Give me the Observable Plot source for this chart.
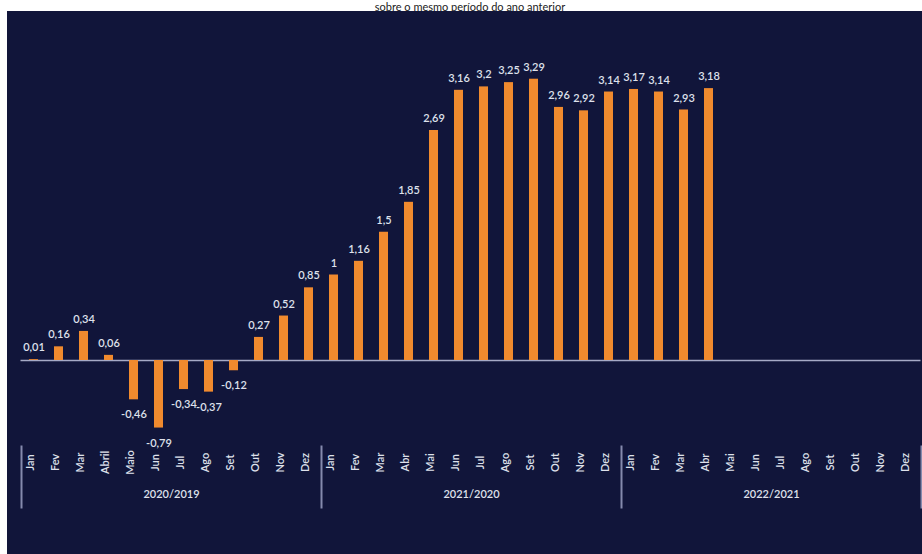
<!DOCTYPE html>
<html>
<head>
<meta charset="utf-8">
<script src="https://cdn.jsdelivr.net/npm/d3@7"></script>
<script src="https://cdn.jsdelivr.net/npm/@observablehq/plot@0.6"></script>
<style>
  html, body { margin: 0; padding: 0; background: #ffffff; }
  #title {
    height: 11px; text-align: center;
    font-family: Lato, "Open Sans", sans-serif; font-size: 11px; line-height: 13px; color: #222;
  }
  #title span { display: block; padding-left: 18px; }
  #chart svg { display: block; margin-left: 7px; position: relative; }
</style>
</head>
<body>
<div id="title"><span>sobre o mesmo período do ano anterior</span></div>
<div id="chart"></div>
<script>
// Month names per comparison period
const months2020 = ["Jan", "Fev", "Mar", "Abril", "Maio", "Jun", "Jul", "Ago", "Set", "Out", "Nov", "Dez"];
const monthsLater = ["Jan", "Fev", "Mar", "Abr", "Mai", "Jun", "Jul", "Ago", "Set", "Out", "Nov", "Dez"];
const periods = ["2020/2019", "2021/2020", "2022/2021"];

// Variation (%) over the same period of the previous year
const values2020 = [0.01, 0.16, 0.34, 0.06, -0.46, -0.79, -0.34, -0.37, -0.12, 0.27, 0.52, 0.85];
const values2021 = [1, 1.16, 1.5, 1.85, 2.69, 3.16, 3.2, 3.25, 3.29, 2.96, 2.92, 3.14];
const values2022 = [3.17, 3.14, 2.93, 3.18];

const monthLists = [months2020, monthsLater, monthsLater];
const valueLists = [values2020, values2021, values2022];

// One slot per month, with or without a value
const slots = [];
periods.forEach((p, i) => {
  monthLists[i].forEach((m, j) => {
    const v = valueLists[i][j];
    slots.push({key: p + "|" + j, period: p, month: m, value: v === undefined ? null : v});
  });
});
const keys = slots.map(d => d.key);
const bars = slots.filter(d => d.value !== null);
const fmt = v => String(v).replace(".", ",");

const groupStarts = periods.map(p => p + "|0");
const groupMiddles = periods.map(p => ({key: p + "|6", label: p}));
const lastKey = keys[keys.length - 1];

const textColor = "#dfe1ec";
const orange = "#f08a2e";
const sepColor = "#858aad";

const chart = Plot.plot({
  width: 915,
  height: 543,
  marginLeft: 13.5,
  marginRight: 1.5,
  marginTop: 49.75,
  marginBottom: 108.5,
  style: {background: "#11153a", fontFamily: "Lato, 'Open Sans', sans-serif", fontSize: "11px", color: textColor},
  x: {domain: keys, paddingInner: 0.64, paddingOuter: 0.32, axis: null},
  y: {domain: [-1, 3.5], axis: null},
  marks: [
    Plot.ruleY([0], {stroke: "#a6aac6", strokeWidth: 1.5}),
    Plot.barY(bars, {x: "key", y: "value", fill: orange}),
    Plot.text(bars.filter(d => d.value >= 0), {
      x: "key", y: "value", text: d => fmt(d.value), dy: -12, fill: textColor, fontSize: 11, fontWeight: 600
    }),
    Plot.text(bars.filter(d => d.value < 0), {
      x: "key", y: "value", text: d => fmt(d.value), dy: 15, fill: textColor, fontSize: 11, fontWeight: 600
    }),
    Plot.text(slots, {
      x: "key", text: "month", frameAnchor: "bottom", dy: 16.5, rotate: -90,
      fill: textColor, fontSize: 11, fontWeight: 600
    }),
    Plot.text(groupMiddles, {
      x: "key", text: "label", dx: -12.5, frameAnchor: "bottom", dy: 51.5,
      fill: textColor, fontSize: 11, fontWeight: 600
    }),
    Plot.ruleX(groupStarts, {x: d => d, dx: -12.5, insetTop: 321.75, dy: 63, stroke: sepColor, strokeWidth: 2}),
    Plot.ruleX([lastKey], {x: d => d, dx: 12.5, insetTop: 321.75, dy: 63, stroke: sepColor, strokeWidth: 2})
  ]
});
document.getElementById("chart").appendChild(chart);
</script>
</body>
</html>
